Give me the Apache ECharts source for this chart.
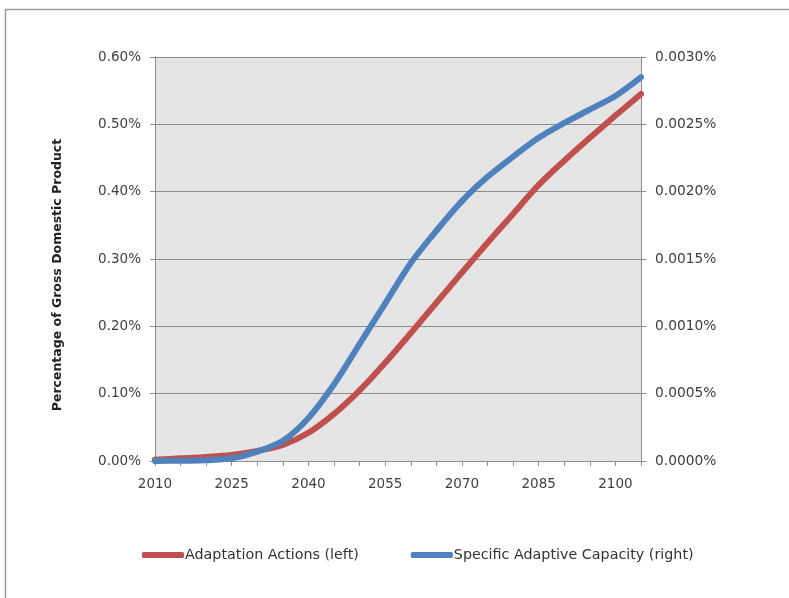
<!DOCTYPE html>
<html>
<head>
<meta charset="utf-8">
<title>Adaptation costs as share of GDP</title>
<script src="https://cdn.jsdelivr.net/npm/echarts@6/dist/echarts.min.js"></script>
<style>
  html, body { margin: 0; padding: 0; background: #ffffff; }
  #chart { width: 789px; height: 598px; }
</style>
</head>
<body>
<div id="chart"></div>
<script>
// Years on the category axis (every 5 years)
const years = ['2010','2015','2020','2025','2030','2035','2040','2045','2050','2055',
               '2060','2065','2070','2075','2080','2085','2090','2095','2100','2105'];

// Adaptation actions, percent of GDP (left axis)
const adaptationActions = [0.002, 0.004, 0.006, 0.009, 0.015, 0.024, 0.042, 0.070, 0.105, 0.146,
                           0.190, 0.235, 0.280, 0.324, 0.367, 0.410, 0.446, 0.480, 0.513, 0.545];

// Specific adaptive capacity, percent of GDP (right axis)
const adaptiveCapacity = [0.00000, 0.000002, 0.000005, 0.00002, 0.00007, 0.00015, 0.00032, 0.00057, 0.00087, 0.00117,
                          0.00147, 0.00171, 0.00193, 0.00211, 0.00226, 0.00240, 0.00251, 0.00261, 0.00271, 0.00285];

const seriesNames = ['Adaptation Actions (left)', 'Specific Adaptive Capacity (right)'];
const yAxisTitle = 'Percentage of Gross Domestic Product';

const FONT = 'DejaVu Sans';
const TEXT = '#404040';
const GRIDLINE = '#8c8c8c';
const RED = '#C0504D';
const BLUE = '#4F81BD';

const chart = echarts.init(document.getElementById('chart'), null, { renderer: 'canvas' });

chart.setOption({
  animation: false,
  backgroundColor: '#ffffff',
  textStyle: { fontFamily: FONT },
  graphic: [
    {
      type: 'rect',
      silent: true,
      shape: { x: 5.5, y: 9.5, width: 820, height: 620 },
      style: { fill: 'none', stroke: '#9a9a9a', lineWidth: 1.5 }
    },
    {
      type: 'text',
      x: 58,
      y: 275,
      rotation: Math.PI / 2,
      style: {
        text: yAxisTitle,
        font: 'bold 12.5px "' + FONT + '"',
        fill: '#222222',
        align: 'center',
        verticalAlign: 'middle'
      }
    }
  ],
  grid: {
    left: 155,
    right: 148,
    top: 57,
    bottom: 137,
    show: true,
    backgroundColor: '#e5e5e5',
    borderWidth: 0
  },
  legend: {
    left: 137,
    top: 543,
    itemGap: 52,
    itemWidth: 42,
    itemHeight: 6,
    icon: 'roundRect',
    textStyle: { fontFamily: FONT, fontSize: 14.3, color: '#333333', padding: [0, 0, 0, -4] },
    data: seriesNames
  },
  xAxis: {
    type: 'category',
    data: years,
    boundaryGap: false,
    axisLine: { lineStyle: { color: GRIDLINE, width: 1 } },
    axisTick: { show: true, interval: 0, length: 5, lineStyle: { color: GRIDLINE } },
    axisLabel: { interval: 2, color: TEXT, fontSize: 13.5, fontFamily: FONT, margin: 16 },
    splitLine: { show: false }
  },
  yAxis: [
    {
      type: 'value',
      min: 0,
      max: 0.6,
      interval: 0.1,
      position: 'left',
      axisLine: { show: true, lineStyle: { color: GRIDLINE, width: 1 } },
      axisTick: { show: true, length: 5, lineStyle: { color: GRIDLINE } },
      axisLabel: {
        color: TEXT, fontSize: 13.5, fontFamily: FONT, margin: 14,
        formatter: v => v.toFixed(2) + '%'
      },
      splitLine: { show: true, lineStyle: { color: GRIDLINE, width: 1 } }
    },
    {
      type: 'value',
      min: 0,
      max: 0.003,
      interval: 0.0005,
      position: 'right',
      axisLine: { show: true, lineStyle: { color: GRIDLINE, width: 1 } },
      axisTick: { show: true, length: 5, lineStyle: { color: GRIDLINE } },
      axisLabel: {
        color: TEXT, fontSize: 13.8, fontFamily: FONT, margin: 14,
        formatter: v => v.toFixed(4) + '%'
      },
      splitLine: { show: false }
    }
  ],
  series: [
    {
      name: seriesNames[0],
      type: 'line',
      yAxisIndex: 0,
      data: adaptationActions,
      smooth: 0.3,
      showSymbol: false,
      symbol: 'none',
      lineStyle: { color: RED, width: 6, cap: 'round' },
      itemStyle: { color: RED },
      z: 2
    },
    {
      name: seriesNames[1],
      type: 'line',
      yAxisIndex: 1,
      data: adaptiveCapacity,
      smooth: 0.3,
      showSymbol: false,
      symbol: 'none',
      lineStyle: { color: BLUE, width: 6, cap: 'round' },
      itemStyle: { color: BLUE },
      z: 3
    }
  ]
});
</script>
</body>
</html>
